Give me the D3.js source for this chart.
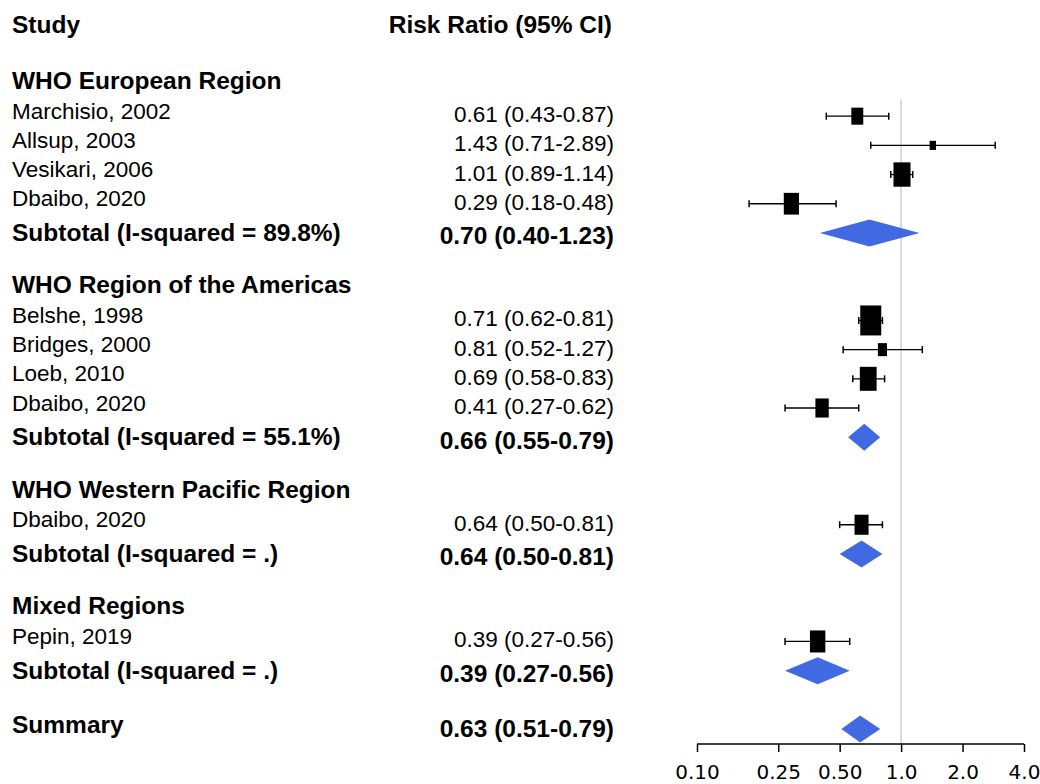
<!DOCTYPE html>
<html lang="en">
<head>
    <meta charset="UTF-8">
    <title>Forest plot: Risk Ratio by WHO region</title>
    <script src="https://d3js.org/d3.v7.min.js"></script>
    <style>
        body { margin: 0; background: #fff; }
        .txt { font-family: "Liberation Sans", Arial, sans-serif; fill: #000; }
        .reg { font-size: 22.5px; }
        .bold { font-size: 24.5px; font-weight: bold; }
        .tick-label { font-family: "DejaVu Sans", Verdana, sans-serif; font-size: 20px; }
    </style>
</head>
<body>
    <svg id="forest" width="1040" height="784"></svg>

    <script>
        // study-level data
        const studies = ["Marchisio, 2002", "Allsup, 2003", "Vesikari, 2006", "Dbaibo, 2020",
                         "Belshe, 1998", "Bridges, 2000", "Loeb, 2010", "Dbaibo, 2020",
                         "Dbaibo, 2020",
                         "Pepin, 2019"];
        const studyGroup = [0, 0, 0, 0, 1, 1, 1, 1, 2, 3];
        const rr   = [0.61, 1.43, 1.01, 0.29, 0.71, 0.81, 0.69, 0.41, 0.64, 0.39];
        const rrLo = [0.43, 0.71, 0.89, 0.18, 0.62, 0.52, 0.58, 0.27, 0.50, 0.27];
        const rrHi = [0.87, 2.89, 1.14, 0.48, 0.81, 1.27, 0.83, 0.62, 0.81, 0.56];
        const weight = [6.7, 1.9, 13.7, 10.9, 20.8, 3.9, 13.3, 8.4, 9.3, 11.2]; // % weight

        // subgroups
        const groups = ["WHO European Region", "WHO Region of the Americas",
                        "WHO Western Pacific Region", "Mixed Regions"];
        const groupI2 = ["89.8%", "55.1%", ".", "."];
        const subRR   = [0.70, 0.66, 0.64, 0.39];
        const subLo   = [0.40, 0.55, 0.50, 0.27];
        const subHi   = [1.23, 0.79, 0.81, 0.56];

        // overall
        const summary = [0.63, 0.51, 0.79];

        // axis
        const tickValues = [0.10, 0.25, 0.50, 1.0, 2.0, 4.0];
        const tickLabels = ["0.10", "0.25", "0.50", "1.0", "2.0", "4.0"];

        const fmt = d3.format(".2f");
        const ciText = (e, l, h) => `${fmt(e)} (${fmt(l)}-${fmt(h)})`;

        // build row list
        const rows = [];
        groups.forEach((g, gi) => {
            rows.push({ type: "header", label: g });
            studies.forEach((s, i) => {
                if (studyGroup[i] === gi) {
                    rows.push({ type: "study", label: s, est: rr[i], lo: rrLo[i], hi: rrHi[i], w: weight[i] });
                }
            });
            rows.push({ type: "subtotal", label: `Subtotal (I-squared = ${groupI2[gi]})`,
                        est: subRR[gi], lo: subLo[gi], hi: subHi[gi] });
            rows.push({ type: "blank" });
        });
        rows.push({ type: "summary", label: "Summary", est: summary[0], lo: summary[1], hi: summary[2] });
        rows.forEach((r, i) => r.idx = i);

        const svg = d3.select("#forest");

        const x = d3.scaleLog().domain([0.1, 4]).range([697, 1024]);
        const y = d3.scaleLinear().domain([0, rows.length - 1]).range([87, 729]);
        const boxH = d3.scaleSqrt().domain([0, d3.max(weight)]).range([0, 30]);

        const nameX = 12, ciX = 614, axisY = 744;

        // column headers
        svg.append("text").attr("class", "txt bold").attr("x", nameX).attr("y", 33).text("Study");
        svg.append("text").attr("class", "txt bold").attr("x", 612).attr("y", 33)
            .attr("text-anchor", "end").text("Risk Ratio (95% CI)");

        // reference line at 1
        svg.append("line")
            .attr("x1", x(1)).attr("x2", x(1))
            .attr("y1", 100).attr("y2", axisY)
            .attr("stroke", "#d0d0d0").attr("stroke-width", 1.5);

        // labels
        const nameOff = { header: 2, study: 2.5, subtotal: 8, summary: 4 };
        const ciOff = { study: 6, subtotal: 11.5, summary: 8 };

        svg.selectAll(".name")
            .data(rows.filter(r => r.type !== "blank"))
            .enter().append("text")
            .attr("class", d => "txt name " + (d.type === "study" ? "reg" : "bold"))
            .attr("x", nameX)
            .attr("y", d => y(d.idx) + nameOff[d.type])
            .text(d => d.label);

        svg.selectAll(".ci")
            .data(rows.filter(r => r.est !== undefined))
            .enter().append("text")
            .attr("class", d => "txt ci " + (d.type === "study" ? "reg" : "bold"))
            .attr("x", ciX)
            .attr("text-anchor", "end")
            .attr("y", d => y(d.idx) + ciOff[d.type])
            .text(d => ciText(d.est, d.lo, d.hi));

        // study markers
        const st = svg.selectAll(".study")
            .data(rows.filter(r => r.type === "study"))
            .enter().append("g")
            .attr("class", "study")
            .attr("transform", d => `translate(0,${y(d.idx)})`);

        st.append("line")
            .attr("x1", d => x(d.lo)).attr("x2", d => x(d.hi))
            .attr("stroke", "#000").attr("stroke-width", 1.3);
        st.append("line")
            .attr("x1", d => x(d.lo)).attr("x2", d => x(d.lo))
            .attr("y1", -3.5).attr("y2", 3.5)
            .attr("stroke", "#000").attr("stroke-width", 1.5);
        st.append("line")
            .attr("x1", d => x(d.hi)).attr("x2", d => x(d.hi))
            .attr("y1", -3.5).attr("y2", 3.5)
            .attr("stroke", "#000").attr("stroke-width", 1.5);
        st.append("rect")
            .attr("x", d => x(d.est) - boxH(d.w) * 0.35)
            .attr("y", d => -boxH(d.w) / 2)
            .attr("width", d => boxH(d.w) * 0.7)
            .attr("height", d => boxH(d.w))
            .attr("fill", "#000");

        // pooled diamonds
        svg.selectAll(".diamond")
            .data(rows.filter(r => r.type === "subtotal" || r.type === "summary"))
            .enter().append("path")
            .attr("class", "diamond")
            .attr("fill", "#4169e1")
            .attr("d", d => {
                const cy = y(d.idx);
                return `M${x(d.lo)},${cy}L${x(d.est)},${cy - 13.5}L${x(d.hi)},${cy}L${x(d.est)},${cy + 13.5}Z`;
            });

        // x axis
        const axis = svg.append("g")
            .attr("transform", `translate(0,${axisY})`)
            .call(d3.axisBottom(x).tickValues(tickValues).tickSize(8).tickFormat((d, i) => tickLabels[i]));
        axis.select(".domain").attr("stroke-width", 1.5).attr("d", `M${x(0.1)},0H${x(4)}`);
        axis.selectAll(".tick line").attr("stroke-width", 1.5);
        axis.selectAll(".tick text")
            .attr("class", "tick-label")
            .attr("fill", "#000")
            .attr("y", 35)
            .attr("dy", 0);
    </script>
</body>
</html>
